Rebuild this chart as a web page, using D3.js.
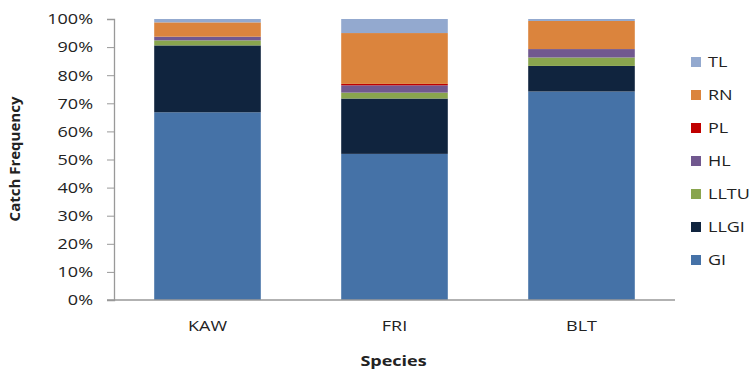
<!DOCTYPE html>
<html>
<head>
<meta charset="utf-8">
<script src="https://cdn.jsdelivr.net/npm/d3@7"></script>
<style>
  html, body { margin: 0; padding: 0; background: #fff; }
  svg { display: block; }
  text { font-family: "Open Sans", "Noto Sans", sans-serif; fill: #222; }
</style>
</head>
<body>
<svg id="chart" width="750" height="371"></svg>
<script>
// Catch frequency (%) by gear/hook category for each species
const species = ["KAW", "FRI", "BLT"];
const categories = ["GI", "LLGI", "LLTU", "HL", "PL", "RN", "TL"];
const GI   = [66.8, 52.0, 74.2];
const LLGI = [23.8, 19.7, 9.1];
const LLTU = [1.8, 2.1, 3.0];
const HL   = [1.3, 2.6, 3.0];
const PL   = [0.0, 0.5, 0.0];
const RN   = [5.1, 18.1, 10.0];
const TL   = [1.2, 5.0, 0.7];
const yTicks = [0, 10, 20, 30, 40, 50, 60, 70, 80, 90, 100];
const colors = ["#4572A7", "#10243E", "#89A54E", "#71588F", "#C00000", "#DB843D", "#93A9CF"];

// horizontal text is drawn slightly widened
const WIDEN = 1.2;

const seriesValues = [GI, LLGI, LLTU, HL, PL, RN, TL];
const rows = species.map((s, i) => {
  const r = { species: s };
  categories.forEach((c, j) => { r[c] = seriesValues[j][i]; });
  return r;
});

const svg = d3.select("#chart");
const plot = { left: 114, right: 675, top: 19, bottom: 300 };

const x = d3.scaleBand().domain(species)
  .range([plot.left, plot.right]).paddingInner(0.43).paddingOuter(0.215);
const y = d3.scaleLinear().domain([0, 100]).range([plot.bottom, plot.top]);
const color = d3.scaleOrdinal().domain(categories).range(colors);

const stacked = d3.stack().keys(categories)(rows);

// stacked bars
svg.append("g").selectAll("g").data(stacked).join("g")
  .attr("fill", d => color(d.key))
  .selectAll("rect").data(d => d).join("rect")
  .attr("x", d => x(d.data.species))
  .attr("width", x.bandwidth())
  .attr("y", d => y(d[1]))
  .attr("height", d => Math.max(0, y(d[0]) - y(d[1])));

// widen a text node around its own anchor point
function widen(sel) {
  sel.each(function () {
    const t = d3.select(this);
    const tx = +t.attr("x") || 0;
    const ty = +t.attr("y") || 0;
    t.attr("x", 0).attr("y", 0)
      .attr("transform", `translate(${tx},${ty}) scale(${WIDEN},1)`);
  });
}

// y axis
const yAxis = svg.append("g")
  .attr("transform", `translate(${plot.left},0)`)
  .call(d3.axisLeft(y).tickValues(yTicks).tickFormat(d => d + "%").tickSize(7).tickPadding(14));
yAxis.select(".domain").attr("stroke", "#999").attr("stroke-width", 1.3);
yAxis.selectAll(".tick line").attr("stroke", "#999");
yAxis.selectAll(".tick text").attr("font-size", 15).attr("fill", "#222")
  .style("font-family", "'Open Sans', sans-serif").call(widen);

// x axis
const xAxis = svg.append("g")
  .attr("transform", `translate(0,${plot.bottom})`)
  .call(d3.axisBottom(x).tickSize(0).tickPadding(20));
xAxis.select(".domain").attr("d", `M${plot.left - 7},0H${plot.right}`)
  .attr("stroke", "#999").attr("stroke-width", 1.3);
xAxis.selectAll(".tick text").attr("font-size", 15).attr("fill", "#222")
  .style("font-family", "'Open Sans', sans-serif").call(widen);

// axis titles
svg.append("text")
  .attr("transform", `translate(20,159) rotate(-90)`)
  .attr("text-anchor", "middle")
  .attr("font-size", 15).attr("font-weight", "bold")
  .text("Catch Frequency");

svg.append("text")
  .attr("x", (plot.left + plot.right) / 2 - 1)
  .attr("y", 366)
  .attr("text-anchor", "middle")
  .attr("font-size", 15).attr("font-weight", "bold")
  .text("Species")
  .call(widen);

// legend, top entry is the top of the stack
const legendOrder = categories.slice().reverse();
const legend = svg.append("g").selectAll("g").data(legendOrder).join("g")
  .attr("transform", (d, i) => `translate(691,${62 + i * 33})`);
legend.append("rect")
  .attr("x", 0).attr("y", -5).attr("width", 10).attr("height", 10)
  .attr("fill", d => color(d));
legend.append("text")
  .attr("x", 17).attr("y", 0).attr("dy", "0.36em")
  .attr("font-size", 15)
  .text(d => d)
  .call(widen);
</script>
</body>
</html>
